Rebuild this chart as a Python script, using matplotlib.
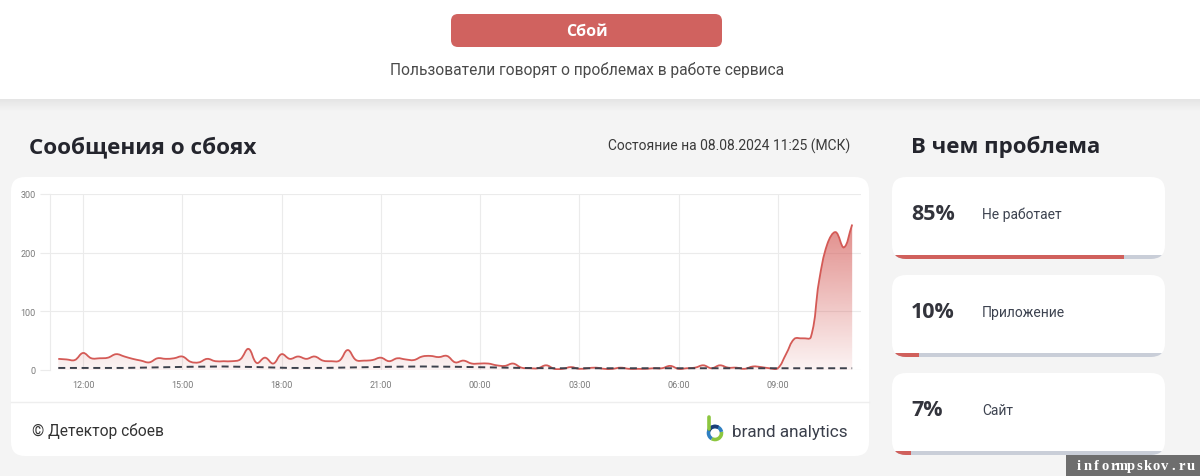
import numpy as np
import pandas as pd
import matplotlib
matplotlib.use("Agg")
import matplotlib.pyplot as plt
import matplotlib.dates as mdates
from matplotlib.patches import FancyBboxPatch, Rectangle, PathPatch, Arc
from matplotlib.path import Path

# ---------------- data ----------------
start_time = "2024-08-07 11:15"
reports = [
    19, 18, 17, 29, 20, 20, 21, 27, 23, 19, 16, 13,        # 11:15 - 14:00
    20, 19, 20, 23, 14, 13, 19, 15, 15, 15, 18, 36,        # 14:15 - 17:00
    12, 21, 11, 27, 19, 23, 19, 23, 16, 15, 16, 34,        # 17:15 - 20:00
    17, 16, 17, 21, 15, 20, 18, 17, 23, 24, 22, 24,        # 20:15 - 23:00
    13, 16, 11, 11, 11, 8, 7, 11, 4, 3, 3, 8,              # 23:15 - 02:00
    2, 2, 5, 2, 3, 4, 2, 2, 4, 2, 2, 2,                    # 02:15 - 05:00
    3, 3, 7, 2, 3, 4, 8, 3, 8, 4, 4, 2,                    # 05:15 - 08:00
    6, 5, 3, 3, 27, 53, 54, 56, 152, 215, 235, 209,        # 08:15 - 11:00
    248,                                                   # 11:15
]
baseline = [3.5, 3.5, 3.5, 4.5, 5.5, 6, 5, 3.5, 3.5, 4.5, 5.5, 6, 5.5,
            4.5, 3.5, 3, 3, 3, 3, 3, 3, 3, 3, 3, 3]
xtick_labels = ["12:00", "15:00", "18:00", "21:00", "00:00", "03:00", "06:00", "09:00"]
yticks = [0, 100, 200, 300]
problem_pcts = [85, 10, 7]
problem_labels = ["Не работает", "Приложение", "Сайт"]

times = pd.date_range(start_time, periods=len(reports), freq="15min")
base_times = pd.date_range(start_time, periods=len(baseline), freq="h")
tick_times = pd.date_range("2024-08-07 12:00", periods=len(xtick_labels), freq="3h")

# ---------------- style ----------------
RED = "#d45a56"
BTN = "#d0625f"
DARK = "#24252d"
BG = "#f4f4f4"
GRID = "#ebebeb"
SANS = ["Roboto", "DejaVu Sans"]
BOLD = ["Open Sans", "DejaVu Sans"]

fig = plt.figure(figsize=(12, 4.77), dpi=100)
fig.patch.set_facecolor(BG)
bg = fig.add_axes([0, 0, 1, 1])
bg.set_xlim(0, 1200)
bg.set_ylim(477, 0)
bg.axis("off")

# top white band + shadow
bg.add_patch(Rectangle((0, 0), 1200, 100, facecolor="white", edgecolor="none"))
for i in range(12):
    a = 0.06 * (1 - i / 12)
    bg.add_patch(Rectangle((0, 100 + i), 1200, 1, facecolor=(0, 0, 0, a), edgecolor="none"))

# button
bg.add_patch(FancyBboxPatch((451, 15), 271, 33, boxstyle="round,pad=0,rounding_size=7",
                            facecolor=BTN, edgecolor="none", mutation_aspect=1))
bg.text(586.5, 32, "Сбой", color="white", fontsize=11.5, fontweight="bold",
        family=BOLD, ha="center", va="center")
bg.text(587, 70, "Пользователи говорят о проблемах в работе сервиса", color="#4a4a4a",
        fontsize=11.2, family=SANS, ha="center", va="center")

# headings
bg.text(29, 147, "Сообщения о сбоях", color=DARK, fontsize=16.2, fontweight="bold",
        family=BOLD, ha="left", va="center")
bg.text(850, 146, "Состояние на 08.08.2024 11:25 (МСК)", color="#3a3a3a", fontsize=10,
        family=SANS, ha="right", va="center")
bg.text(911, 147, "В чем проблема", color=DARK, fontsize=16, fontweight="bold",
        family=BOLD, ha="left", va="center")

# chart card
bg.add_patch(FancyBboxPatch((11, 178), 858, 279, boxstyle="round,pad=0,rounding_size=14",
                            facecolor="white", edgecolor="none", mutation_aspect=1))
bg.plot([11, 869], [403, 403], color="#eeeeee", lw=1)
bg.text(32, 431, "© Детектор сбоев", color="#333333", fontsize=11.2, family=SANS,
        ha="left", va="center")
# brand analytics logo
bg.plot([709, 709], [418, 430], color="#8cc63f", lw=2.6, solid_capstyle="round")
bg.add_patch(Arc((715, 434), 13, 13, theta1=-10, theta2=120, color="#8cc63f", lw=2.6))
bg.add_patch(Arc((715, 434), 13, 13, theta1=120, theta2=350, color="#2f7fc1", lw=2.6))
bg.add_patch(Arc((715, 434), 13, 13, theta1=200, theta2=300, color="#1c3f7a", lw=2.6))
bg.text(732, 433, "brand analytics", color="#3a3f4b", fontsize=12.3, family=SANS,
        ha="left", va="center")

# right cards
card_tops = [178, 276, 374]
for top, pct, lab in zip(card_tops, problem_pcts, problem_labels):
    card = FancyBboxPatch((892, top), 273, 82, boxstyle="round,pad=0,rounding_size=14",
                          facecolor="white", edgecolor="none", mutation_aspect=1)
    bg.add_patch(card)
    g = Rectangle((892, top + 78), 273, 4, facecolor="#c9ced8", edgecolor="none")
    bg.add_patch(g)
    g.set_clip_path(card)
    r = Rectangle((892, top + 78), 273 * pct / 100, 4, facecolor="#d0605c", edgecolor="none")
    bg.add_patch(r)
    r.set_clip_path(card)
    bg.text(911, top + 37, f"{pct}%", color="#33343c", fontsize=15.5, fontweight="bold",
            family=BOLD, ha="left", va="center")
    bg.text(982, top + 37, lab, color="#3d4350", fontsize=10, family=SANS,
            ha="left", va="center")

# watermark
bg.add_patch(Rectangle((1066, 456), 134, 21, facecolor="#6e6e6e", edgecolor="none"))
wm = "informpskov.ru"
for k, ch in enumerate(wm):
    bg.text(1079 + k * 8.6, 467, ch, color="white", fontsize=10.5, fontweight="bold",
            family=["Liberation Serif", "DejaVu Serif"], ha="center", va="center")

# ---------------- chart ----------------
ax = fig.add_axes([50 / 1200, 1 - 371 / 477, 811 / 1200, 176 / 477])
ax.set_facecolor("none")
x_num = mdates.date2num(times.to_pydatetime())
y = np.asarray(reports, dtype=float)
x0 = mdates.date2num(pd.Timestamp("2024-08-07 11:00").to_pydatetime())
x1 = mdates.date2num(pd.Timestamp("2024-08-08 11:31").to_pydatetime())
ax.set_xlim(x0, x1)
ax.set_ylim(0, 300)

# spline path (Chart.js style tension)
sx = 811 / (x1 - x0)
sy = 176 / 300.0
tension = 0.4
n = len(x_num)
cps_prev, cps_next = [], []
for i in range(n):
    p = i - 1 if i > 0 else i
    q = i + 1 if i < n - 1 else i
    d01 = np.hypot((x_num[i] - x_num[p]) * sx, (y[i] - y[p]) * sy)
    d12 = np.hypot((x_num[q] - x_num[i]) * sx, (y[q] - y[i]) * sy)
    tot = d01 + d12 if d01 + d12 > 0 else 1
    fa = tension * d01 / tot
    fb = tension * d12 / tot
    dx = x_num[q] - x_num[p]
    dy = y[q] - y[p]
    cps_prev.append((x_num[i] - fa * dx, y[i] - fa * dy))
    cps_next.append((x_num[i] + fb * dx, y[i] + fb * dy))
verts = [(x_num[0], y[0])]
codes = [Path.MOVETO]
for i in range(n - 1):
    verts += [cps_next[i], cps_prev[i + 1], (x_num[i + 1], y[i + 1])]
    codes += [Path.CURVE4] * 3
line_path = Path(verts, codes)
fill_path = Path(verts + [(x_num[-1], 0), (x_num[0], 0), (x_num[0], y[0])],
                 codes + [Path.LINETO, Path.LINETO, Path.CLOSEPOLY])

# gradient fill
grad = np.zeros((256, 1, 4))
rgb = matplotlib.colors.to_rgb(RED)
grad[:, 0, 0:3] = rgb
grad[:, 0, 3] = np.linspace(0.07, 0.82, 256)
clip = PathPatch(fill_path, transform=ax.transData, facecolor="none", edgecolor="none")
ax.add_patch(clip)
im = ax.imshow(grad, extent=[x0, x1, 0, 300], origin="lower", aspect="auto",
               interpolation="bilinear", zorder=2)
im.set_clip_path(clip)
ax.add_patch(PathPatch(line_path, transform=ax.transData, facecolor="none",
                       edgecolor=RED, lw=1.3, zorder=4))
ax.set_xlim(x0, x1)
ax.set_ylim(0, 300)

# baseline dashed
bx = mdates.date2num(base_times.to_pydatetime())
ax.plot(bx, baseline, color="#3d414c", lw=1.4, dashes=(3.6, 2.4), zorder=5)

# axes styling
ax.set_yticks(yticks)
ax.set_xticks(mdates.date2num(tick_times.to_pydatetime()))
ax.set_xticklabels(xtick_labels)
ax.grid(True, color=GRID, lw=0.8, zorder=0)
for s in ["top", "right", "bottom"]:
    ax.spines[s].set_visible(False)
ax.spines["left"].set_color(GRID)
ax.spines["left"].set_linewidth(0.8)
ax.tick_params(axis="y", length=7.2, color=GRID, width=0.8, pad=3, labelsize=6.5,
               labelcolor="#7a7a7a")
ax.tick_params(axis="x", length=0, pad=7, labelsize=6.5, labelcolor="#7a7a7a")
for lab in ax.get_xticklabels() + ax.get_yticklabels():
    lab.set_family(SANS)

fig.savefig("out.png", dpi=100, facecolor=fig.get_facecolor())
